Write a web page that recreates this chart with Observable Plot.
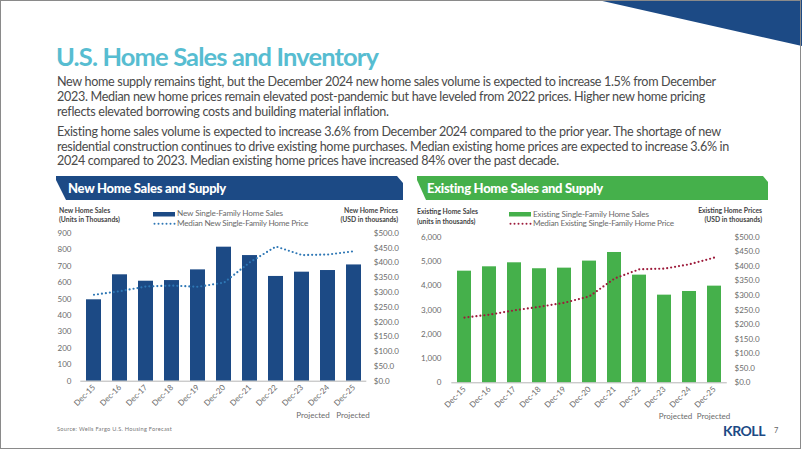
<!DOCTYPE html>
<html><head><meta charset="utf-8">
<script src="https://cdn.jsdelivr.net/npm/d3@7"></script>
<script src="https://cdn.jsdelivr.net/npm/@observablehq/plot@0.6"></script>
<style>
body{margin:0;background:#fff;}
#slide{position:relative;width:802px;height:451px;overflow:hidden;font-family:Lato, sans-serif;background:#fff;}
.t{position:absolute;white-space:nowrap;}
</style></head>
<body><div id="slide"></div>
<script>
// ---------- data ----------
const years = ["Dec-15","Dec-16","Dec-17","Dec-18","Dec-19","Dec-20","Dec-21","Dec-22","Dec-23","Dec-24","Dec-25"];
const newSales = [495, 647, 608, 612, 677, 815, 764, 637, 663, 673, 707];
const newPrice = [292, 304, 320, 323, 319, 333, 402, 455, 426, 428, 439];
const existingSales = [4600, 4780, 4945, 4700, 4725, 5015, 5370, 4437, 3612, 3763, 3983];
const existingPrice = [224, 234, 249, 261, 275, 297, 358, 390, 392, 407, 430];
const newSalesTicks = [0,100,200,300,400,500,600,700,800,900];
const existingSalesTicks = [0,1000,2000,3000,4000,5000,6000];
const priceTicks = [0,50,100,150,200,250,300,350,400,450,500];
const projectedYears = ["Dec-23","Dec-25"];
const projectedLabel = "Projected";

const titleText = "U.S. Home Sales and Inventory";
const para1 = [
 "New home supply remains tight, but the December 2024 new home sales volume is expected to increase 1.5% from December",
 "2023. Median new home prices remain elevated post-pandemic but have leveled from 2022 prices. Higher new home pricing",
 "reflects elevated borrowing costs and building material inflation."];
const para2 = [
 "Existing home sales volume is expected to increase 3.6% from December 2024 compared to the prior year. The shortage of new",
 "residential construction continues to drive existing home purchases. Median existing home prices are expected to increase 3.6% in",
 "2024 compared to 2023. Median existing home prices have increased 84% over the past decade."];
const newBanner = "New Home Sales and Supply";
const existingBanner = "Existing Home Sales and Supply";
const newLegend = ["New Single-Family Home Sales","Median New Single-Family Home Price"];
const existingLegend = ["Existing Single-Family Home Sales","Median Existing Single-Family Home Price"];
const newLeftTitle = ["New Home Sales","(Units in Thousands)"];
const newRightTitle = ["New Home Prices","(USD in thousands)"];
const existingLeftTitle = ["Existing Home Sales","(units in thousands)"];
const existingRightTitle = ["Existing Home Prices","(USD in thousands)"];
const sourceText = "Source: Wells Fargo U.S. Housing Forecast";
const logoText = "KROLL";
const pageNum = "7";

// ---------- colors ----------
const navy = "#1c4a85";
const green = "#45b04b";
const blueDot = "#2e77b5";
const redDot = "#9d1b3b";

const slide = document.getElementById("slide");

function txt(s, o){
  const d = document.createElement("div");
  d.className = "t";
  d.textContent = s;
  const lh = o.size*1.15;
  d.style.fontSize = o.size+"px";
  d.style.lineHeight = lh+"px";
  d.style.fontWeight = o.weight || 400;
  d.style.color = o.color || "#4d4d4d";
  if (o.family) d.style.fontFamily = o.family;
  d.style.top = (o.y - lh/2) + "px";
  slide.appendChild(d);
  if (o.w){
    const nat = d.getBoundingClientRect().width;
    d.style.letterSpacing = ((o.w - nat)/s.length) + "px";
  }
  const w = d.getBoundingClientRect().width;
  if (o.right !== undefined) d.style.left = (o.right - w) + "px";
  else d.style.left = o.x + "px";
  return d;
}

function svgEl(html, x, y, w, h){
  const ns = "http://www.w3.org/2000/svg";
  const s = document.createElementNS(ns,"svg");
  s.setAttribute("width", w); s.setAttribute("height", h);
  s.style.position = "absolute"; s.style.left = x+"px"; s.style.top = y+"px";
  s.innerHTML = html;
  slide.appendChild(s);
  return s;
}

// top-right triangle
svgEl(`<polygon points="598,0 802,0 802,46" fill="${navy}"/>`, 0, 0, 802, 60);

// title & paragraphs
txt(titleText, {x:56, y:57, size:25.5, weight:700, color:"#57bdd1", w:322});
const p1y = [82.5, 97.3, 112.1], p1w = [659, 648, 332];
para1.forEach((s,i)=>txt(s,{x:57, y:p1y[i], size:12.6, color:"#4a4a4a", w:p1w[i]}));
const p2y = [132, 146.8, 161.6], p2w = [664, 673, 502];
para2.forEach((s,i)=>txt(s,{x:57, y:p2y[i], size:12.6, color:"#4a4a4a", w:p2w[i]}));

// banners
svgEl(`<polygon points="56,176 397,176 403,183 403,200 66,200 56,180" fill="${navy}"/>
       <polygon points="417,176 763,176 768,182 768,200 426,200 417,180" fill="${green}"/>`, 0, 0, 802, 210);
txt(newBanner, {x:68, y:188, size:13, weight:900, color:"#fff", w:158});
txt(existingBanner, {x:427, y:188, size:13, weight:900, color:"#fff", w:176});

// axis titles
txt(newLeftTitle[0], {x:59, y:211, size:6.8, weight:700, color:"#444"});
txt(newLeftTitle[1], {x:59, y:220, size:6.8, weight:700, color:"#444"});
txt(newRightTitle[0], {right:398, y:211, size:6.8, weight:700, color:"#444"});
txt(newRightTitle[1], {right:398, y:220, size:6.8, weight:700, color:"#444"});
txt(existingLeftTitle[0], {x:417, y:212, size:6.8, weight:700, color:"#444"});
txt(existingLeftTitle[1], {x:417, y:221.5, size:6.8, weight:700, color:"#444"});
txt(existingRightTitle[0], {right:762, y:211, size:6.8, weight:700, color:"#444"});
txt(existingRightTitle[1], {right:762, y:220, size:6.8, weight:700, color:"#444"});

// legends
function legend(x, y, labels, barColor, dotColor, widths){
  svgEl(`<rect x="0" y="2" width="22" height="4.5" fill="${barColor}"/>
         <line x1="1.5" x2="22" y1="${4.2+9.5}" y2="${4.2+9.5}" stroke="${dotColor}" stroke-width="2" stroke-dasharray="0 4" stroke-linecap="round"/>`, x, y-4.2, 24, 20);
  txt(labels[0], {x:x+24, y:y, size:8.2, color:"#6b6b6b", w:widths[0]});
  txt(labels[1], {x:x+24, y:y+9.5, size:8.2, color:"#6b6b6b", w:widths[1]});
}
legend(153, 214, newLegend, navy, blueDot, [106, 131]);
legend(509, 214.3, existingLegend, green, redDot, [116, 141]);

// charts
function makeChart(o){
  const rows = years.map((y,i)=>({year:y, sales:o.sales[i], price:o.price[i]}));
  const k = o.salesMax/500;
  const svg = Plot.plot({
    width:o.width, height:o.height,
    marginLeft:o.ml, marginRight:o.mr, marginTop:o.mt, marginBottom:o.mb,
    style:{fontFamily:"Lato, sans-serif", fontSize:"8px", color:"#6b6b6b", background:"transparent", overflow:"visible"},
    x:{domain:years, paddingInner:0.43, paddingOuter:0.215},
    y:{domain:[0,o.salesMax]},
    marks:[
      Plot.barY(rows,{x:"year", y:"sales", fill:o.barColor}),
      Plot.ruleY([0],{stroke:"#b5b5b5", strokeWidth:1}),
      Plot.line(rows,{x:"year", y:d=>d.price*k, stroke:o.lineColor, strokeWidth:2.2, strokeDasharray:"0 4", strokeLinecap:"round"}),
      Plot.axisY({anchor:"left", ticks:o.salesTicks, tickFormat:o.fmt, tickSize:0, tickPadding:o.lp, label:null}),
      Plot.axisY({anchor:"right", ticks:priceTicks.map(p=>p*k), tickFormat:v=>"$"+(v/k).toFixed(1), tickSize:0, tickPadding:o.rp, label:null}),
      Plot.axisX({tickRotate:-45, tickSize:0, tickPadding:5, label:null}),
      Plot.text(projectedYears.slice(0,1), {x:d=>d, text:()=>projectedLabel, frameAnchor:"bottom", dy:36.5, dx:11}),
      Plot.text(projectedYears.slice(1), {x:d=>d, text:()=>projectedLabel, frameAnchor:"bottom", dy:36.5, dx:-1})
    ]
  });
  svg.style.position = "absolute";
  svg.style.left = o.x+"px"; svg.style.top = o.y+"px";
  slide.appendChild(svg);
}
makeChart({x:40, y:200, width:370, height:230, ml:40.3, mr:43.7, mt:32.7, mb:49.3,
  sales:newSales, price:newPrice, salesMax:900, salesTicks:newSalesTicks, fmt:d=>String(d),
  barColor:navy, lineColor:blueDot, lp:9.3, rp:7});
makeChart({x:405, y:200, width:380, height:230, ml:46.3, mr:58.2, mt:36.7, mb:47.7,
  sales:existingSales, price:existingPrice, salesMax:6000, salesTicks:existingSalesTicks, fmt:d3.format(","),
  barColor:green, lineColor:redDot, lp:10.3, rp:7.2});

// footer
txt(sourceText, {x:57, y:429, size:5.6, color:"#777", w:115});
txt(logoText, {x:723, y:431, size:14, weight:700, color:navy, w:42});
txt(pageNum, {x:774, y:431, size:7.5, color:"#666"});

// frame
const fr = document.createElement("div");
fr.style.cssText = "position:absolute;left:0;top:0;width:799px;height:447px;border:1px solid #8a8a8a;pointer-events:none;";
slide.appendChild(fr);
</script>
</body></html>
